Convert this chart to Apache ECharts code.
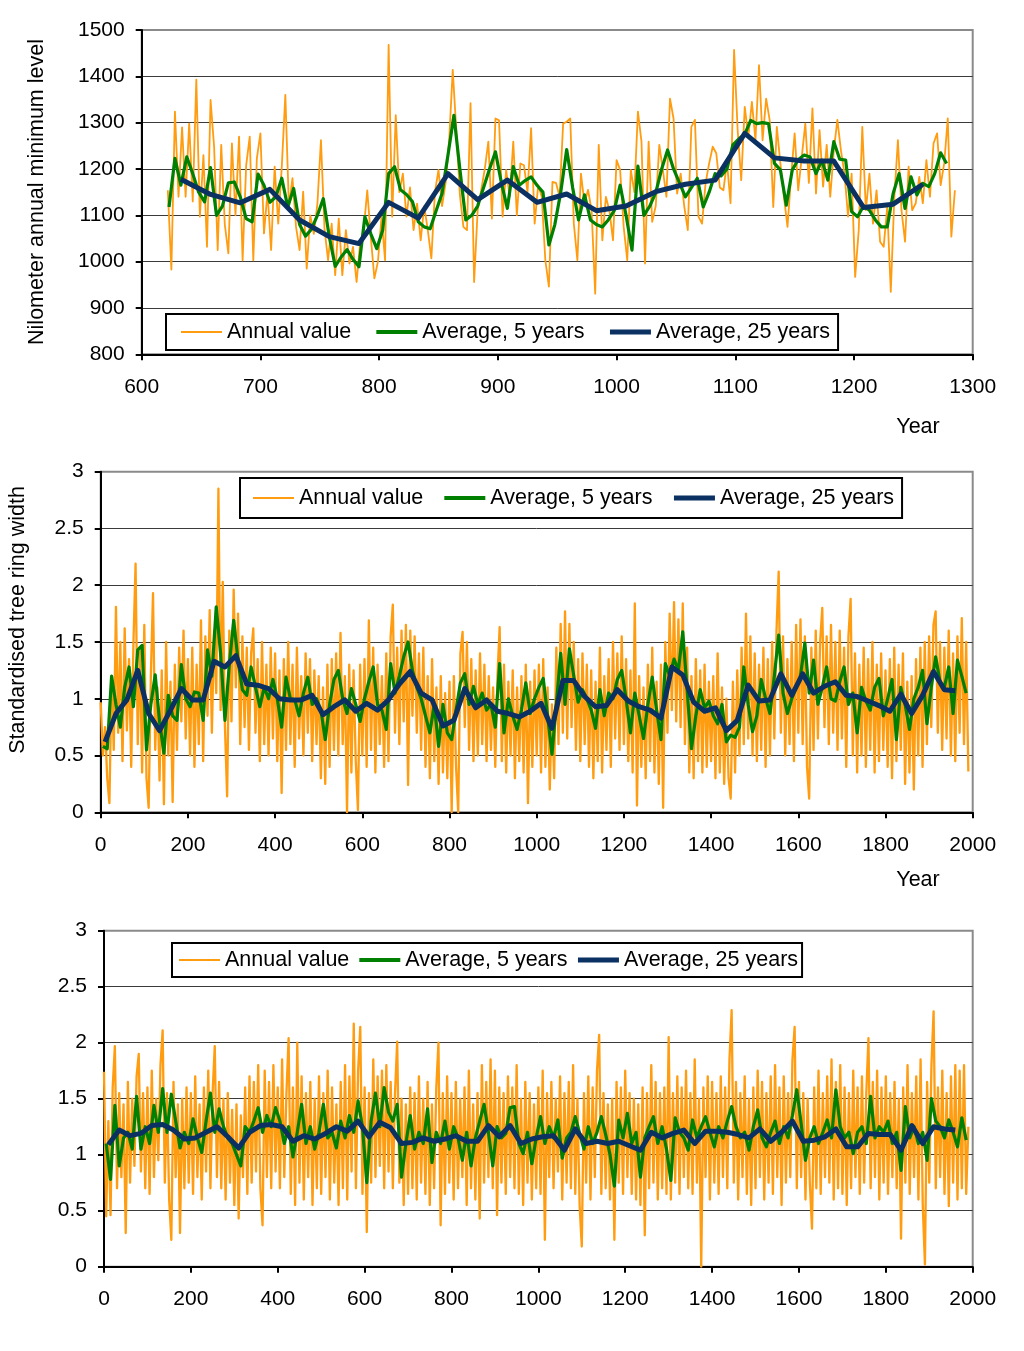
<!DOCTYPE html>
<html>
<head>
<meta charset="utf-8">
<script src="https://cdn.jsdelivr.net/npm/echarts@6/dist/echarts.min.js"></script>
<style>
html,body{margin:0;padding:0;background:#fff;}
#chart{width:1024px;height:1351px;}
</style>
</head>
<body>
<div id="chart"></div>
<script>
// ---------- Panel 1: Nilometer annual minimum level ----------
var p1AnnualStart = 622, p1AnnualStep = 3;
var p1Annual = [
1154,983,1324,1140,1290,1140,1298,1130,1393,1097,
1230,1032,1349,1248,1025,1252,1080,1018,1255,1100,
1270,1003,1208,1270,1003,1223,1277,1061,1150,1025,
1205,1082,1205,1360,1118,1180,1075,1025,1151,985,
1100,1060,1125,1262,1070,1003,1082,971,1093,971,
1068,996,1032,956,1040,1070,1154,1053,964,1000,
1097,1003,1468,1097,1316,1150,1190,1097,1160,1068,
1125,1046,1120,1068,1007,1150,1198,1120,1170,1262,
1414,1284,1145,1075,1068,1342,956,1111,1155,1200,
1259,1093,1309,1305,1097,1198,1140,1259,1100,1212,
1208,1150,1288,1082,1165,1140,1003,946,1172,1170,
1140,1298,1302,1309,1082,1003,1190,1125,1155,1110,
931,1252,1046,1140,1110,1046,1219,1198,1075,1003,
1198,1150,1324,1259,996,1259,1086,1120,1252,1198,
1140,1352,1309,1147,1190,1120,1068,1291,1306,1097,
1082,1170,1212,1248,1234,1160,1154,1215,1126,1457,
1284,1176,1334,1270,1345,1262,1424,1262,1352,1305,
1118,1291,1212,1140,1075,1183,1277,1154,1226,1298,
1170,1331,1147,1284,1162,1252,1140,1240,1306,1240,
1190,1097,1190,967,1068,1291,1111,1190,1082,1154,
1043,1032,1118,935,1140,1262,1111,1043,1205,1111,
1126,1183,1126,1219,1140,1255,1277,1165,1212,1309,
1054,1154
];
var p1Avg5Start = 623, p1Avg5Step = 5;
var p1Avg5 = [
1118,1223,1165,1226,1190,1150,1129,1203,1100,1120,
1170,1172,1140,1093,1086,1189,1165,1128,1140,1180,
1118,1158,1080,1055,1070,1100,1136,1054,990,1010,
1026,1005,989,1097,1060,1028,1068,1190,1205,1155,
1145,1130,1086,1075,1071,1110,1147,1230,1316,1200,
1090,1100,1120,1160,1200,1237,1170,1115,1205,1165,
1175,1183,1165,1150,1036,1080,1150,1242,1160,1090,
1144,1090,1080,1075,1090,1110,1165,1100,1025,1206,
1100,1120,1149,1200,1241,1200,1170,1140,1160,1180,
1118,1150,1190,1185,1200,1252,1265,1275,1305,1298,
1300,1298,1212,1198,1122,1198,1220,1230,1226,1190,
1219,1176,1259,1221,1219,1108,1097,1120,1111,1090,
1075,1075,1147,1190,1115,1183,1144,1169,1162,1190,
1235,1212
];
var p1Avg25Start = 633, p1Avg25Step = 25;
var p1Avg25 = [1178,1145,1127,1156,1090,1054,1039,1128,1094,1190,1134,1176,1128,1146,1110,1120,1151,1167,1176,1277,1224,1217,1217,1117,1124,1167];
var p1YTicks = {min: 800, max: 1500, interval: 100};
var p1XTicks = {min: 600, max: 1300, interval: 100};

// ---------- Panel 2: Standardised tree ring width ----------
var p2AnnualStart = 0, p2AnnualStep = 5;
var p2Annual = [
0.97,0.50,0.75,0.30,0.08,1.20,0.55,1.81,0.70,1.50,0.45,1.62,0.72,1.35,0.40,1.48,2.19,0.60,1.45,0.35,
1.65,0.30,0.04,1.20,1.93,0.55,1.10,0.28,1.25,0.07,1.50,0.50,1.15,0.09,1.30,0.55,1.45,0.80,1.60,0.65,
1.35,0.50,1.45,0.40,1.30,0.60,1.69,0.45,1.55,0.85,1.78,0.70,1.60,1.05,2.85,0.90,2.03,0.75,0.14,1.60,
0.80,1.96,1.10,1.75,0.60,1.55,0.75,1.45,0.55,1.40,1.62,0.70,1.35,0.45,1.50,0.60,1.30,0.50,1.45,0.65,
1.40,0.45,1.25,0.17,1.35,0.55,1.50,0.60,1.30,0.40,1.45,0.65,1.20,0.50,1.40,0.70,1.35,0.45,1.25,0.60,
1.20,0.30,1.10,0.25,1.30,0.40,1.35,0.55,1.40,0.50,1.58,0.60,1.20,0.00,1.30,0.35,1.25,0.45,0.02,1.30,
0.50,1.35,0.40,1.69,0.55,1.45,0.35,1.30,0.60,1.20,0.40,1.40,0.45,1.55,1.83,0.70,1.45,0.60,1.60,0.80,
1.65,0.24,1.60,0.85,1.55,0.70,1.40,0.55,1.45,0.40,1.20,0.30,1.35,0.45,1.10,0.25,1.20,0.35,1.05,0.30,
1.15,0.00,1.20,0.40,0.00,1.40,1.59,0.75,1.50,0.55,1.35,0.45,1.25,0.50,1.40,0.60,1.30,0.45,1.20,0.55,
1.10,0.40,1.20,1.63,0.45,1.30,0.35,1.15,0.50,1.25,0.30,1.10,0.45,1.20,0.35,1.30,0.08,1.15,0.40,1.25,
0.50,1.30,0.35,1.35,0.40,1.10,0.20,0.95,0.30,1.45,0.60,1.66,0.70,1.77,0.65,1.66,0.75,1.50,0.55,1.35,
0.45,1.40,0.60,1.30,0.40,1.25,0.30,1.15,0.45,1.45,0.35,1.20,0.55,1.35,0.40,1.50,0.65,1.40,0.55,1.55,
0.60,1.35,0.45,1.25,0.35,1.84,0.06,1.20,0.40,1.10,0.30,1.30,0.45,1.45,0.35,1.15,0.25,1.30,0.04,1.50,
0.70,1.75,0.90,1.85,0.80,1.70,0.75,1.84,0.60,1.45,0.35,1.20,0.30,1.35,0.45,1.25,0.35,1.30,0.40,1.15,
0.45,1.20,0.30,1.40,0.35,1.10,0.25,1.00,0.30,0.12,1.15,0.35,1.25,0.50,1.45,0.60,1.75,0.65,1.55,0.50,
1.40,0.45,1.30,0.55,1.45,0.40,1.35,0.50,1.50,0.65,1.60,2.12,0.70,1.55,0.50,1.35,0.60,1.50,0.45,1.65,
0.70,1.70,0.60,1.55,0.40,0.12,1.45,0.55,1.60,0.65,1.50,1.80,0.75,1.55,0.60,1.65,0.70,1.50,0.55,1.60,
0.65,1.45,0.40,1.55,1.88,0.50,1.40,0.35,1.30,0.50,1.45,0.40,1.35,0.55,1.50,0.35,1.30,0.45,1.40,0.55,
1.25,0.40,1.35,0.30,1.45,0.45,1.30,0.55,1.40,0.25,1.15,0.35,1.20,0.20,1.35,0.50,1.45,0.40,1.50,0.60,
1.55,0.75,1.65,1.77,0.70,1.50,0.55,1.45,0.65,1.60,0.50,1.40,0.45,1.55,0.70,1.71,0.60,1.50,0.36
];
var p2Avg5Start = 5, p2Avg5Step = 10;
var p2Avg5 = [
0.58,0.56,1.20,0.95,0.75,1.10,1.28,0.93,1.43,1.47,
0.55,0.95,1.21,0.80,0.52,1.03,0.85,0.81,1.30,1.00,
0.93,1.06,1.05,0.81,1.43,1.20,1.81,1.40,0.81,1.30,
1.69,1.34,1.08,1.03,1.28,1.10,0.93,1.10,1.00,1.17,
1.00,0.75,1.19,1.00,0.99,0.85,1.05,1.19,0.95,1.00,
0.90,0.64,0.95,1.17,1.25,1.00,0.87,1.09,0.95,0.80,
1.00,1.15,1.28,0.95,0.90,0.73,1.31,1.05,1.20,1.37,
1.50,1.25,1.10,1.00,0.85,0.70,0.95,0.58,0.95,0.70,
0.64,0.90,1.14,1.22,0.95,1.11,0.95,1.05,0.90,0.95,
0.75,1.31,0.70,1.00,0.85,0.73,0.90,1.14,0.87,1.00,
1.10,1.18,0.85,0.51,0.95,1.40,0.95,1.44,1.20,0.97,
1.08,1.00,0.90,0.74,1.08,0.85,1.05,1.00,1.17,1.25,
1.00,0.70,1.05,0.85,0.65,0.95,1.19,0.90,0.64,1.31,
1.20,1.35,1.25,1.59,1.08,0.56,0.85,1.08,0.92,0.98,
0.85,0.78,0.95,0.62,0.68,0.66,0.75,1.28,0.95,0.71,
0.85,1.17,1.00,0.87,1.20,1.56,1.05,0.87,1.00,1.10,
1.20,1.49,1.05,1.34,0.95,1.10,1.28,1.00,0.98,1.15,
1.28,0.95,1.05,0.70,1.10,0.98,0.90,1.10,1.18,0.85,
1.00,1.17,0.64,1.10,0.95,0.73,1.00,1.10,1.25,0.78,
1.10,1.37,1.15,1.10,1.28,0.87,1.34,1.20,1.05
];
var p2Avg25Start = 10, p2Avg25Step = 25;
var p2Avg25 = [
0.62,0.87,0.99,1.25,0.87,0.72,0.90,1.09,0.99,0.99,
1.33,1.28,1.38,1.13,1.12,1.09,1.00,0.99,0.99,1.03,
0.86,0.93,0.99,0.89,0.96,0.90,0.99,1.13,1.24,1.05,
0.99,0.76,0.81,1.09,0.92,0.99,0.89,0.87,0.84,0.89,
0.96,0.74,1.16,1.16,1.02,0.93,0.94,1.08,0.98,0.93,
0.90,0.83,1.28,1.21,0.97,0.89,0.92,0.72,0.81,1.12,
0.98,0.99,1.22,1.03,1.22,1.05,1.11,1.15,1.03,1.02,
0.98,0.94,0.89,1.04,0.87,1.03,1.24,1.08,1.07
];

// ---------- Panel 3 ----------
var p3AnnualStart = 0, p3AnnualStep = 5;
var p3Annual = [
1.74,0.45,1.30,0.46,1.60,1.97,0.70,1.55,0.80,1.45,0.30,1.65,0.75,1.50,0.90,1.70,1.90,0.85,1.55,0.70,
1.60,0.65,1.75,0.80,1.50,0.95,1.80,2.11,0.75,1.55,0.60,0.24,1.65,0.80,1.45,0.30,1.50,0.70,1.60,0.75,
1.55,0.65,1.70,0.80,1.45,0.60,1.60,0.85,1.75,0.70,1.55,1.97,0.80,1.65,0.70,1.50,0.60,1.55,0.75,1.40,
0.55,1.45,0.43,1.35,0.80,1.60,0.65,1.70,0.75,1.65,0.85,1.80,0.70,0.37,1.75,0.80,1.65,0.70,1.80,0.85,
1.60,0.70,1.85,0.80,1.55,2.04,0.65,1.60,0.55,2.00,0.75,1.70,0.60,1.55,0.80,1.65,0.55,1.50,0.70,1.70,
0.65,1.55,0.80,1.75,0.60,1.60,0.75,1.45,0.55,1.65,0.70,1.80,0.60,1.70,0.85,2.17,0.70,1.75,2.14,0.65,
1.60,0.31,1.55,0.75,1.85,0.80,1.70,0.90,1.75,0.70,1.80,0.85,1.65,0.70,1.55,2.01,0.75,1.50,0.55,1.45,
0.65,1.60,0.70,1.55,0.60,1.70,0.75,1.50,0.65,1.65,0.55,1.45,0.70,1.60,2.00,0.37,1.55,0.65,1.70,0.75,
1.55,0.60,1.65,0.70,1.50,0.80,1.60,0.55,1.75,0.70,1.45,0.60,1.55,0.43,1.80,0.75,1.65,0.80,1.85,0.70,
1.75,0.46,1.60,0.75,1.55,0.65,1.70,0.80,1.60,0.70,1.80,0.65,1.50,0.55,1.65,0.75,1.55,0.60,1.45,0.70,
1.60,0.65,1.75,0.24,1.55,0.80,1.65,0.70,1.50,0.85,1.70,0.60,1.55,0.75,1.65,0.70,1.80,0.65,1.50,0.55,
0.18,1.55,0.75,1.70,0.60,1.60,0.80,1.75,2.07,0.65,1.55,0.70,1.45,0.60,1.50,0.24,1.65,0.75,1.60,0.65,
1.75,0.80,1.55,0.65,1.50,0.60,1.45,0.55,1.60,0.28,1.55,0.70,1.80,0.75,1.65,0.60,1.55,0.70,1.60,0.65,
2.05,0.60,1.55,0.75,1.70,0.65,1.60,0.80,1.75,0.70,1.55,0.65,1.85,0.75,1.50,0.00,1.60,0.80,1.70,0.60,
1.65,0.75,1.55,0.65,1.70,0.80,1.60,0.70,1.85,2.29,0.75,1.65,0.60,1.55,0.80,1.70,0.65,1.50,0.55,1.60,
0.70,1.75,0.80,1.65,0.60,1.55,0.75,1.70,0.65,1.80,0.80,1.60,0.55,1.70,0.75,1.55,0.80,1.85,2.14,0.70,
1.65,0.80,1.55,0.60,1.50,0.75,0.34,1.60,0.70,1.75,0.65,1.55,0.80,1.70,0.75,1.85,0.60,1.65,0.70,1.80,
0.65,1.60,0.55,1.55,0.70,1.75,0.80,1.60,0.65,1.70,0.75,1.55,2.04,0.70,1.65,0.80,1.75,0.60,1.60,0.75,
1.70,0.65,1.55,0.80,1.65,0.70,1.50,0.25,1.60,0.75,1.80,0.65,1.55,0.80,1.70,0.60,1.85,0.55,0.02,1.65,
0.75,1.80,2.28,0.70,1.60,0.80,1.75,0.65,1.55,0.54,1.70,0.75,1.80,0.60,1.75,0.70,1.80,0.65,1.25
];
var p3Avg5Start = 5, p3Avg5Step = 10;
var p3Avg5 = [
1.10,0.78,1.44,0.90,1.15,1.20,1.05,1.52,1.05,1.25,
1.10,1.44,1.20,1.59,1.20,1.54,1.30,1.06,1.20,1.10,
1.32,1.15,1.02,1.30,1.55,1.20,1.41,1.25,1.15,1.10,
1.00,0.90,1.25,1.20,1.30,1.42,1.20,1.35,1.25,1.42,
1.30,1.10,1.25,0.98,1.20,1.45,1.10,1.25,1.05,1.20,
1.45,1.15,1.20,1.06,1.30,1.15,1.35,1.20,1.48,1.25,
0.75,1.30,1.55,1.25,1.60,1.38,1.30,1.45,0.80,1.10,
1.35,1.05,1.20,1.10,1.41,0.93,1.20,1.10,1.30,1.05,
1.25,1.15,0.95,1.20,0.90,1.15,1.30,1.45,1.20,0.90,
1.25,1.15,1.19,1.42,1.43,1.10,1.01,1.20,0.92,1.15,
1.34,1.10,1.25,1.15,1.31,0.97,1.15,1.20,1.34,1.19,
1.05,1.25,1.10,1.20,1.34,1.18,1.00,0.72,1.31,1.15,
1.37,1.10,1.20,0.80,1.15,1.25,1.34,1.10,1.25,1.05,
0.77,1.33,1.20,1.15,1.04,1.31,1.15,1.25,1.34,1.20,
1.07,1.25,1.15,1.30,1.43,1.25,1.15,1.20,1.04,1.25,
1.40,1.15,1.07,1.20,1.30,1.10,1.25,1.15,1.35,1.58,
1.28,0.95,1.15,1.25,1.10,1.20,1.31,1.15,1.58,1.25,
1.15,1.20,1.01,1.20,1.25,1.10,1.52,1.15,1.25,1.20,
1.30,1.10,1.20,0.86,1.43,1.15,1.25,1.10,1.20,0.95,
1.50,1.30,1.25,1.15,1.31,1.20,1.07,1.33,1.13
];
var p3Avg25Start = 10, p3Avg25Step = 25;
var p3Avg25 = [
1.09,1.22,1.17,1.19,1.26,1.27,1.22,1.14,1.15,1.20,
1.25,1.16,1.06,1.20,1.26,1.27,1.25,1.12,1.17,1.14,
1.19,1.25,1.21,1.30,1.16,1.29,1.24,1.10,1.11,1.15,
1.12,1.14,1.17,1.12,1.12,1.26,1.16,1.26,1.10,1.14,
1.16,1.17,1.04,1.23,1.10,1.12,1.10,1.12,1.08,1.04,
1.20,1.15,1.19,1.22,1.10,1.21,1.21,1.20,1.18,1.15,
1.23,1.12,1.20,1.30,1.12,1.13,1.16,1.23,1.07,1.07,
1.19,1.18,1.18,1.04,1.26,1.10,1.25,1.23,1.22
];
var ringYTicks = {min: 0, max: 3, interval: 0.5};
var ringXTicks = {min: 0, max: 2000, interval: 200};

var seriesNames = ['Annual value', 'Average, 5 years', 'Average, 25 years'];
var yTitle1 = 'Nilometer annual minimum level';
var yTitle2 = 'Standardised tree ring width';
var xTitle = 'Year';

// ---------- build ----------
var FONT = '"Liberation Sans", Arial, Helvetica, sans-serif';
var COL = {annual: '#FF9C10', avg5: '#008000', avg25: '#0B3163'};
function pairs(start, step, vals) { return vals.map(function (v, i) { return [start + i * step, v]; }); }
function plain(v) { return String(v); }

function xAx(gi, t) {
  return {type: 'value', gridIndex: gi, min: t.min, max: t.max, interval: t.interval,
    axisLine: {show: true, onZero: false, lineStyle: {color: '#000', width: 2}},
    axisTick: {show: true, length: 6, lineStyle: {color: '#000', width: 2}},
    axisLabel: {color: '#000', fontSize: 21, fontFamily: FONT, margin: 22, formatter: plain},
    splitLine: {show: false}};
}
function yAx(gi, t) {
  return {type: 'value', gridIndex: gi, min: t.min, max: t.max, interval: t.interval,
    axisLine: {show: true, onZero: false, lineStyle: {color: '#000', width: 2}},
    axisTick: {show: true, length: 6, lineStyle: {color: '#000', width: 2}},
    axisLabel: {color: '#000', fontSize: 21, fontFamily: FONT, margin: 17, formatter: plain},
    splitLine: {show: true, showMinLine: false, showMaxLine: false, lineStyle: {color: '#3a3a3a', width: 1}}};
}
function gridBox(left, top, height) {
  return {left: left, top: top, width: 972.7 - left, height: height, show: true,
    borderColor: '#8a8a8a', borderWidth: 2, backgroundColor: 'transparent',
    containLabel: false, outerBoundsMode: 'none'};
}
function mk(name, gi, data, color, width, z) {
  return {name: name, type: 'line', xAxisIndex: gi, yAxisIndex: gi, data: data,
    symbol: 'none', showSymbol: false, smooth: false, z: z,
    lineStyle: {color: color, width: width, join: 'round'}, itemStyle: {color: color},
    emphasis: {disabled: true}};
}
var hiddenMark = {color: 'rgba(0,0,0,0)', borderColor: 'rgba(0,0,0,0)', borderWidth: 0, opacity: 0};
function legendBox(left, top, padding, gap) {
  return {left: left, top: top, orient: 'horizontal', padding: padding, itemGap: gap,
    itemWidth: 41, itemHeight: 14, borderColor: '#000', borderWidth: 2, backgroundColor: '#fff',
    selectedMode: false, z: 10, itemStyle: hiddenMark,
    textStyle: {fontSize: 21.5, fontFamily: FONT, color: '#000', lineHeight: 24},
    data: [
      {name: seriesNames[0], itemStyle: hiddenMark, lineStyle: {width: 2, color: COL.annual}},
      {name: seriesNames[1], itemStyle: hiddenMark, lineStyle: {width: 4, color: COL.avg5}},
      {name: seriesNames[2], itemStyle: hiddenMark, lineStyle: {width: 5, color: COL.avg25}}
    ]};
}

var series = [];
var sets = [
  [p1Annual, p1AnnualStart, p1AnnualStep, p1Avg5, p1Avg5Start, p1Avg5Step, p1Avg25, p1Avg25Start, p1Avg25Step, 1.8],
  [p2Annual, p2AnnualStart, p2AnnualStep, p2Avg5, p2Avg5Start, p2Avg5Step, p2Avg25, p2Avg25Start, p2Avg25Step, 2.3],
  [p3Annual, p3AnnualStart, p3AnnualStep, p3Avg5, p3Avg5Start, p3Avg5Step, p3Avg25, p3Avg25Start, p3Avg25Step, 2.3]
];
sets.forEach(function (s, gi) {
  series.push(mk(seriesNames[0], gi, pairs(s[1], s[2], s[0]), COL.annual, s[9], 2));
  series.push(mk(seriesNames[1], gi, pairs(s[4], s[5], s[3]), COL.avg5, 3.2, 3));
  series.push(mk(seriesNames[2], gi, pairs(s[7], s[8], s[6]), COL.avg25, 5, 4));
});

var chart = echarts.init(document.getElementById('chart'), null, {renderer: 'canvas'});
chart.setOption({
  animation: false,
  backgroundColor: '#fff',
  textStyle: {fontFamily: FONT},
  grid: [gridBox(141.7, 30, 324.3), gridBox(100.7, 471.7, 340.6), gridBox(104, 930.7, 336)],
  xAxis: [xAx(0, p1XTicks), xAx(1, ringXTicks), xAx(2, ringXTicks)],
  yAxis: [yAx(0, p1YTicks), yAx(1, ringYTicks), yAx(2, ringYTicks)],
  legend: [
    legendBox(166, 314, [6, 8, 6, 14], 23),
    legendBox(240, 478, [8, 8, 8, 12], 19),
    legendBox(172, 943, [5, 4, 5, 6], 8)
  ],
  graphic: [
    {type: 'text', x: 37, y: 192, rotation: Math.PI / 2, style: {text: yTitle1, font: '21.5px ' + FONT, fill: '#000', textAlign: 'center', textVerticalAlign: 'middle'}},
    {type: 'text', x: 18.5, y: 620, rotation: Math.PI / 2, style: {text: yTitle2, font: '21.5px ' + FONT, fill: '#000', textAlign: 'center', textVerticalAlign: 'middle'}},
    {type: 'text', x: 918, y: 427, style: {text: xTitle, font: '21.5px ' + FONT, fill: '#000', textAlign: 'center', textVerticalAlign: 'middle'}},
    {type: 'text', x: 918, y: 880, style: {text: xTitle, font: '21.5px ' + FONT, fill: '#000', textAlign: 'center', textVerticalAlign: 'middle'}}
  ],
  series: series
});
</script>
</body>
</html>
